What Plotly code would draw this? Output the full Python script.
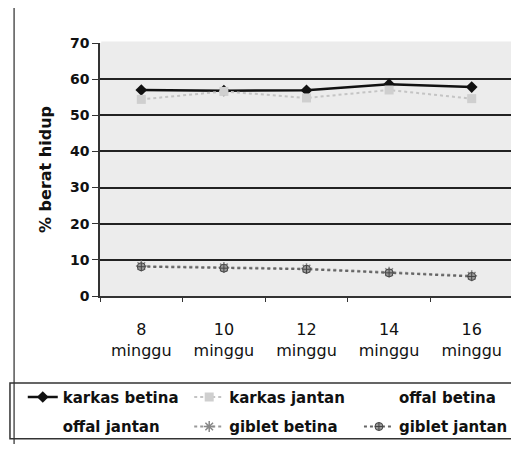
import plotly.graph_objects as go

categories = ["8<br>minggu", "10<br>minggu", "12<br>minggu", "14<br>minggu", "16<br>minggu"]
karkas_betina = [57.0, 56.8, 56.9, 58.6, 57.8]
karkas_jantan = [54.4, 56.6, 54.8, 57.0, 54.6]
offal_betina = [None, None, None, None, None]
offal_jantan = [None, None, None, None, None]
giblet_betina = [8.3, 7.9, 7.6, 6.6, 5.6]
giblet_jantan = [8.1, 7.7, 7.4, 6.4, 5.4]

font = "DejaVu Sans, sans-serif"
invisible = "rgba(255,255,255,0)"
fig = go.Figure()
fig.add_trace(go.Scatter(x=categories, y=karkas_betina, name="karkas betina", mode="lines+markers",
                         legend="legend", legendgroup="a",
                         line=dict(color="#111", width=2.5), marker=dict(symbol="diamond", size=9, color="#111")))
fig.add_trace(go.Scatter(x=categories, y=offal_jantan, name="offal jantan", mode="lines+markers",
                         legend="legend", legendgroup="b",
                         line=dict(color=invisible, width=2), marker=dict(color=invisible)))
fig.add_trace(go.Scatter(x=categories, y=karkas_jantan, name="karkas jantan", mode="lines+markers",
                         legend="legend2", legendgroup="c",
                         line=dict(color="#c4c4c4", width=2, dash="dot"), marker=dict(symbol="square", size=9, color="#cfcfcf")))
fig.add_trace(go.Scatter(x=categories, y=giblet_betina, name="giblet betina", mode="lines+markers",
                         legend="legend2", legendgroup="d",
                         line=dict(color="#999", width=2, dash="dot"), marker=dict(symbol="asterisk-open", size=9, color="#888", line=dict(width=1.5, color="#888"))))
fig.add_trace(go.Scatter(x=categories, y=offal_betina, name="offal betina", mode="lines+markers",
                         legend="legend3", legendgroup="e",
                         line=dict(color=invisible, width=2), marker=dict(color=invisible)))
fig.add_trace(go.Scatter(x=categories, y=giblet_jantan, name="giblet jantan", mode="lines+markers",
                         legend="legend3", legendgroup="f",
                         line=dict(color="#666", width=2, dash="dot"), marker=dict(symbol="circle-cross", size=8, color="#999", line=dict(width=1, color="#444"))))

leg_common = dict(orientation="v", yanchor="top", xanchor="left", y=-0.335,
                  font=dict(family=font, size=15, color="#111", weight="bold"),
                  bgcolor="rgba(0,0,0,0)", tracegroupgap=7, traceorder="grouped")

fig.update_layout(
    width=511, height=444,
    margin=dict(l=92, r=6, t=35, b=156, autoexpand=False),
    paper_bgcolor="white", plot_bgcolor="#ececec",
    font=dict(family=font, color="#111", size=14),
    showlegend=True,
    legend=dict(x=-0.187, **leg_common),
    legend2=dict(x=0.216, **leg_common),
    legend3=dict(x=0.627, **leg_common),
    xaxis=dict(showgrid=False, showline=True, linecolor="#333", linewidth=1.5, ticks="outside",
               tickson="boundaries", tickcolor="#333", ticklen=4, ticklabelstandoff=18,
               tickfont=dict(family=font, size=16, color="#111"), range=[-0.5, 4.5]),
    yaxis=dict(range=[0, 70], dtick=10, showgrid=True, gridcolor="#222", gridwidth=2, zeroline=False,
               showline=True, linecolor="#333", linewidth=1.5, ticks="outside", tickcolor="#333", ticklen=6,
               tickfont=dict(family=font, size=14, color="#111", weight="bold"),
               title=dict(text="% berat hidup", font=dict(family=font, size=16, color="#111", weight="bold"),
                          standoff=14)),
    shapes=[
        dict(type="line", xref="paper", yref="paper", x0=0.003, x1=1, y0=1, y1=1,
             line=dict(color="#ececec", width=3), layer="above"),
        dict(type="line", xref="paper", yref="paper", x0=-0.208, x1=-0.208, y0=1.17, y1=-0.585,
             line=dict(color="#555", width=1.5)),
        dict(type="rect", xref="paper", yref="paper", x0=-0.218, x1=1.015, y0=-0.344, y1=-0.564,
             line=dict(color="#333", width=1.5)),
    ],
)
fig.write_html("out.html")
